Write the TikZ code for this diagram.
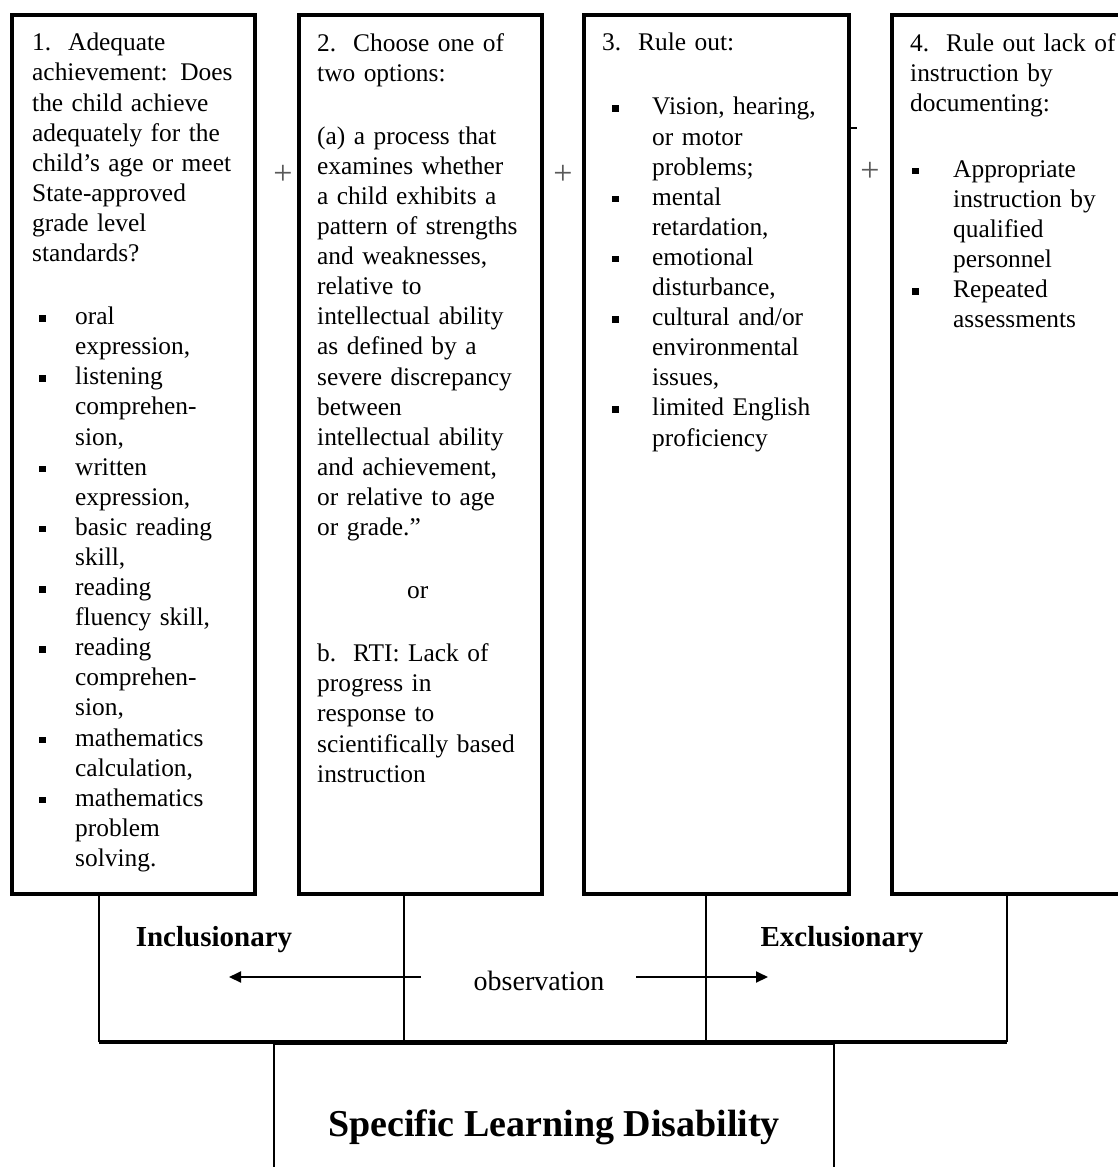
\documentclass[tikz,border=0pt]{standalone}
\usepackage{fontspec}
\setmainfont{Liberation Serif}
\usetikzlibrary{arrows.meta}
\newcommand{\sq}{\rule[3pt]{6.5pt}{6.5pt}}
\newcommand{\bul}[2]{\makebox[#2][l]{\hspace*{#1}\sq}}

\begin{document}
\begin{tikzpicture}[x=1pt,y=-1pt,
  colbox/.style={draw,line width=3.8pt,minimum height=879pt,anchor=north west,inner sep=0pt},
  coltext/.style={anchor=north west,inner sep=0pt,text width=300pt,align=left,
    font=\fontsize{25.4}{30.1}\selectfont},
  plus/.style={inner sep=0pt,text=black!65,font=\fontsize{34}{34}\selectfont},
  link/.style={line width=2pt},
  arr/.style={line width=2pt,-{Triangle[length=12pt,width=11pt]}},
  side/.style={inner sep=0pt,font=\fontsize{29}{29}\selectfont\bfseries}]
\useasboundingbox (0,0) rectangle (1118,1167);
\clip (0,0) rectangle (1118,1167);

% the four criteria
\node[colbox,minimum width=243pt] (box1) at (10,13) {};
\node[colbox,minimum width=243pt] (box2) at (297,13) {};
\node[colbox,minimum width=265pt] (box3) at (582,13) {};
\node[colbox,minimum width=260pt] (box4) at (890,13) {};

\node[coltext] (txt1) at ([shift={(22,20)}]box1.north west) {%
1.\ \ Adequate\\
achievement: Does\\
the child achieve\\
adequately for the\\
child's age or meet\\
State-approved\\
grade level\\
standards?\\[33pt]
\bul{7pt}{43pt}oral\\
\hspace*{43pt}expression,\\
\bul{7pt}{43pt}listening\\
\hspace*{43pt}comprehen-\\
\hspace*{43pt}sion,\\
\bul{7pt}{43pt}written\\
\hspace*{43pt}expression,\\
\bul{7pt}{43pt}basic reading\\
\hspace*{43pt}skill,\\
\bul{7pt}{43pt}reading\\
\hspace*{43pt}fluency skill,\\
\bul{7pt}{43pt}reading\\
\hspace*{43pt}comprehen-\\
\hspace*{43pt}sion,\\
\bul{7pt}{43pt}mathematics\\
\hspace*{43pt}calculation,\\
\bul{7pt}{43pt}mathematics\\
\hspace*{43pt}problem\\
\hspace*{43pt}solving.};

\node[coltext] (txt2) at ([shift={(20,20)}]box2.north west) {%
2.\ \ Choose one of\\
two options:\\[33pt]
(a) a process that\\
examines whether\\
a child exhibits a\\
pattern of strengths\\
and weaknesses,\\
relative to\\
intellectual ability\\
as defined by a\\
severe discrepancy\\
between\\
intellectual ability\\
and achievement,\\
or relative to age\\
or grade.''\\[33pt]
\hspace*{90pt}or\\[33pt]
b.\ \ RTI: Lack of\\
progress in\\
response to\\
scientifically based\\
instruction};

\node[coltext] (txt3) at ([shift={(20,20)}]box3.north west) {%
3.\ \ Rule out:\\[34pt]
\bul{10pt}{50pt}Vision, hearing,\\
\hspace*{50pt}or motor\\
\hspace*{50pt}problems;\\
\bul{10pt}{50pt}mental\\
\hspace*{50pt}retardation,\\
\bul{10pt}{50pt}emotional\\
\hspace*{50pt}disturbance,\\
\bul{10pt}{50pt}cultural and/or\\
\hspace*{50pt}environmental\\
\hspace*{50pt}issues,\\
\bul{10pt}{50pt}limited English\\
\hspace*{50pt}proficiency};

\node[coltext] (txt4) at ([shift={(20,20)}]box4.north west) {%
4.\ \ Rule out lack of\\
instruction by\\
documenting:\\[36pt]
\bul{2pt}{43pt}Appropriate\\
\hspace*{43pt}instruction by\\
\hspace*{43pt}qualified\\
\hspace*{43pt}personnel\\
\bul{2pt}{43pt}Repeated\\
\hspace*{43pt}assessments};

\node[plus] (plus12) at (283,175) {+};
\node[plus] (plus23) at (563,175) {+};
\node[plus] (plus34) at (870,172) {+};
\draw[link] (box3.north east |- 0,128) -- ++(6,0);

% frame below
\coordinate (barL) at (99,1042);
\coordinate (div2) at (404,1042);
\coordinate (div3) at (706,1042);
\coordinate (barR) at (1007,1042);
\path[link] (box1.south -| barL) edge (barL);
\path[link] (box2.south -| div2) edge (div2);
\path[link] (box3.south -| div3) edge (div3);
\path[link] (box4.south -| barR) edge (barR);
\draw[line width=4.5pt] (barL) -- (barR);

\node[side] (incl) at (214,940) {Inclusionary};
\node[side] (excl) at (842,940) {Exclusionary};
\node[inner sep=0pt,font=\fontsize{28}{28}\selectfont] (obs) at (539,981) {observation};
\coordinate (inTail) at (421,977);
\coordinate (inTip) at (229,977);
\coordinate (exTail) at (636,977);
\coordinate (exTip) at (768,977);
\draw[arr] (inTail) -- (inTip);
\draw[arr] (exTail) -- (exTip);

\node[draw,line width=2.5pt,anchor=north,minimum width=560pt,minimum height=168pt,
  font=\fontsize{38}{38}\selectfont\bfseries] (sld) at (554,1042) {Specific Learning Disability};
\end{tikzpicture}
\end{document}
